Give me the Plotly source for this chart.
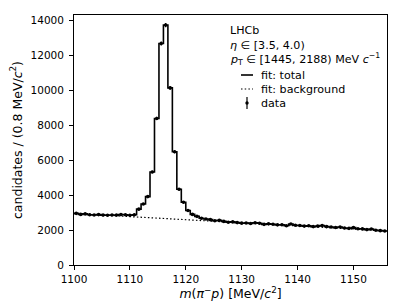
import numpy as np
import plotly.graph_objects as go

# ---------------- data ----------------
bin_width = 0.8
mass_start = 1100.0
counts = [2960, 2900, 2930, 2880, 2870, 2890, 2860, 2850, 2870, 2860,
          2890, 2880, 2850, 2880, 3200, 3500, 3920, 5330, 8400, 12700,
          13750, 10150, 6490, 4340, 3600, 3120, 2900, 2790, 2680, 2640,
          2600, 2540, 2560, 2500, 2450, 2470, 2430, 2400, 2410, 2380,
          2420, 2390, 2330, 2360, 2340, 2300, 2310, 2250, 2350, 2280,
          2260, 2230, 2250, 2200, 2230, 2260, 2200, 2180, 2150, 2180,
          2120, 2100, 2140, 2080, 2070, 2030, 2060, 1990, 1970, 1950]
bg_mass = [1100, 1110, 1120, 1130, 1140, 1150, 1156]
bg_vals = [2950, 2760, 2590, 2420, 2240, 2060, 1950]
x_ticks = [1100, 1110, 1120, 1130, 1140, 1150]
x_tick_labels = ["1100", "1110", "1120", "1130", "1140", "1150"]
y_ticks = [0, 2000, 4000, 6000, 8000, 10000, 12000, 14000]
y_tick_labels = ["0", "2000", "4000", "6000", "8000", "10000", "12000", "14000"]

n = len(counts)
edges = mass_start + bin_width * np.arange(n + 1)
centers = edges[:-1] + bin_width / 2
counts_arr = np.array(counts, dtype=float)
errors = np.sqrt(counts_arr)
step_y = np.append(counts_arr, counts_arr[-1])

FONT = "DejaVu Sans"
FS = 10.5      # tick labels
FS_L = 11.1    # legend / info text
FS_T = 12.5    # axis titles
DOTS = "1.5px,2.2px"

fig = go.Figure()
fig.add_trace(go.Scatter(x=bg_mass, y=bg_vals, mode="lines",
                         line=dict(color="black", width=1.2, dash=DOTS),
                         showlegend=False, name="fit: background"))
fig.add_trace(go.Scatter(x=edges, y=step_y, mode="lines", line_shape="hv",
                         line=dict(color="black", width=1.6),
                         showlegend=False, name="fit: total"))
fig.add_trace(go.Scatter(x=centers, y=counts_arr, mode="markers",
                         marker=dict(color="black", size=3.6),
                         error_y=dict(type="data", array=errors, color="black",
                                      thickness=1.2, width=0),
                         showlegend=False, name="data"))

# plot geometry in pixels
W, H = 407, 305
L, R, T, B = 74, 20, 15, 40
pw, ph = W - L - R, H - T - B


def px(xp):
    return (xp - L) / pw


def py(yp):
    return (H - B - yp) / ph


text_x = px(228)
lines = [("LHCb", 31),
         ("<i>η</i> ∈ [3.5, 4.0)", 45),
         ("<i>p</i><sub>T</sub> ∈ [1445, 2188) MeV <i>c</i><sup>−1</sup>", 59)]
for txt, yy in lines:
    fig.add_annotation(x=text_x, y=py(yy), xref="paper", yref="paper",
                       text=txt, showarrow=False, xanchor="left", yanchor="middle",
                       font=dict(family=FONT, size=FS_L, color="black"))

entries = [("fit: total", 75), ("fit: background", 89), ("data", 103)]
for txt, yy in entries:
    fig.add_annotation(x=px(259), y=py(yy), xref="paper", yref="paper",
                       text=txt, showarrow=False, xanchor="left", yanchor="middle",
                       font=dict(family=FONT, size=FS_L, color="black"))

# legend samples
fig.add_shape(type="line", xref="paper", yref="paper", x0=px(241), x1=px(253),
              y0=py(75), y1=py(75), line=dict(color="black", width=1.6))
fig.add_shape(type="line", xref="paper", yref="paper", x0=px(241), x1=px(253),
              y0=py(89), y1=py(89), line=dict(color="black", width=1.2, dash=DOTS))
fig.add_shape(type="line", xref="paper", yref="paper", x0=px(247), x1=px(247),
              y0=py(97), y1=py(109), line=dict(color="black", width=1.2))
fig.add_shape(type="circle", xref="paper", yref="paper", x0=px(245.3), x1=px(248.7),
              y0=py(104.7), y1=py(101.3), fillcolor="black", line=dict(color="black", width=0))

axis_common = dict(showgrid=False, zeroline=False, showline=True, linecolor="black",
                   linewidth=0.9, mirror=True, ticks="outside", ticklen=4,
                   tickwidth=0.9, tickcolor="black",
                   tickfont=dict(family=FONT, size=FS, color="black"))

fig.update_xaxes(range=[1100, 1156], tickvals=x_ticks, ticktext=x_tick_labels,
                 title=dict(text="<i>m</i>(<i>π</i><sup>−</sup><i>p</i>) [MeV/<i>c</i><sup>2</sup>]",
                            font=dict(family=FONT, size=FS_T, color="black"), standoff=0),
                 **axis_common)
fig.update_yaxes(range=[0, 14330], tickvals=y_ticks, ticktext=y_tick_labels,
                 ticklabelstandoff=3,
                 title=dict(text="candidates / (0.8 MeV/<i>c</i><sup>2</sup>)",
                            font=dict(family=FONT, size=FS_T, color="black"), standoff=5),
                 **axis_common)

fig.update_layout(width=W, height=H, margin=dict(l=L, r=R, t=T, b=B, autoexpand=False),
                  plot_bgcolor="white", paper_bgcolor="white",
                  font=dict(family=FONT, size=FS, color="black"))

fig.write_html("out.html", config={"displayModeBar": False},
               post_script="document.body.style.margin='0px';document.body.style.padding='0px';")
